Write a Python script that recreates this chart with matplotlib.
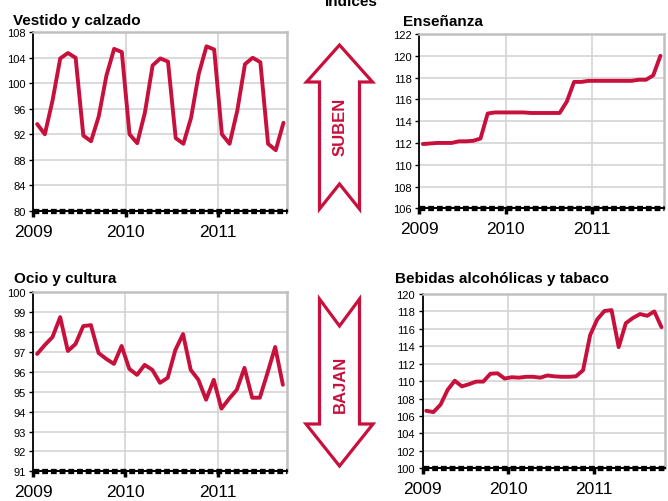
import numpy as np
import matplotlib.pyplot as plt
from matplotlib.patches import Polygon

plt.rcParams['font.family'] = ['Liberation Sans', 'DejaVu Sans']

# ===== datos (índices mensuales, ene-2009 en adelante) =====
years = ['2009', '2010', '2011']

vestido = [93.6, 92.0, 97.3, 103.9, 104.75, 104.0, 91.8, 90.9, 94.8, 101.2, 105.4, 104.9,
           92.0, 90.6, 95.4, 102.8, 103.9, 103.4, 91.4, 90.5, 94.6, 101.5, 105.8, 105.3,
           92.0, 90.5, 95.7, 103.0, 104.0, 103.3, 90.5, 89.5, 93.8]

ensenanza = [111.9, 111.95, 112.0, 112.0, 112.0, 112.15, 112.15, 112.2, 112.4, 114.7, 114.8, 114.8,
             114.8, 114.8, 114.8, 114.75, 114.75, 114.75, 114.75, 114.75, 115.8, 117.6, 117.6, 117.7,
             117.7, 117.7, 117.7, 117.7, 117.7, 117.7, 117.8, 117.8, 118.2, 120.0]

ocio = [96.9, 97.35, 97.75, 98.75, 97.05, 97.4, 98.3, 98.35, 96.95, 96.65, 96.4, 97.3,
        96.15, 95.85, 96.35, 96.1, 95.45, 95.7, 97.1, 97.9, 96.1, 95.6, 94.6, 95.6,
        94.15, 94.65, 95.1, 96.2, 94.7, 94.7, 95.95, 97.25, 95.35]

bebidas = [106.6, 106.45, 107.3, 109.0, 110.05, 109.4, 109.65, 109.95, 109.95, 110.85, 110.9, 110.3,
           110.45, 110.4, 110.5, 110.5, 110.4, 110.65, 110.55, 110.5, 110.5, 110.55, 111.25, 115.3,
           117.1, 118.05, 118.15, 113.9, 116.65, 117.25, 117.7, 117.5, 118.0, 116.2]

RED = '#C8103C'
W, H = 668, 502

fig = plt.figure(figsize=(W / 100, H / 100), dpi=100)


def panel(box, values, ymin, ymax, step, title, title_xy):
    # box en pixeles: izquierda, arriba, derecha, abajo
    l, t, r, b = box
    ax = fig.add_axes([l / W, 1 - b / H, (r - l) / W, (b - t) / H])
    x = np.arange(len(values)) + 0.5
    ax.plot(x, values, color=RED, lw=2.8, solid_joinstyle='round',
            solid_capstyle='round', zorder=3)
    ax.set_xlim(0, len(values))
    ax.set_ylim(ymin, ymax)
    ax.set_yticks(np.arange(ymin, ymax + step / 2, step))
    ax.set_xticks([0, 12, 24])
    ax.set_xticklabels(years, fontsize=12.5)
    ax.tick_params(axis='y', labelsize=8, length=3, width=1, pad=2.5)
    ax.tick_params(axis='x', length=4.5, width=2.5, pad=5)
    ax.grid(True, color='#d4d4d4', lw=1.2, zorder=0)
    for s in ('top', 'right'):
        ax.spines[s].set_color('#c0c0c0')
        ax.spines[s].set_linewidth(1.8)
    ax.spines['left'].set_linewidth(1.3)
    ax.spines['bottom'].set_visible(False)
    # eje inferior grueso punteado
    ax.axhline(ymin, color='black', lw=1.5, zorder=4, clip_on=False)
    ax.axhline(ymin, color='black', lw=3.8, ls=(0, (1.1, 0.55)), zorder=4, clip_on=False)
    fig.text(title_xy[0] / W, 1 - title_xy[1] / H, title, fontsize=11,
             fontweight='bold', ha='left', va='baseline')
    return ax


panel((33.3, 33.3, 287.3, 211.7), vestido, 80, 108, 4, 'Vestido y calzado', (12.7, 24.5))
panel((419.3, 35, 664, 209.3), ensenanza, 106, 122, 2, 'Enseñanza', (403.3, 26))
panel((33.3, 293.3, 286.7, 472.3), ocio, 91, 100, 1, 'Ocio y cultura', (14, 283.3))
panel((422.7, 295, 665, 469.3), bebidas, 100, 120, 2, 'Bebidas alcohólicas y tabaco', (395, 283.3))

fig.text(351 / W, 1 - 6 / H, 'Índices', fontsize=11, fontweight='bold',
         ha='center', va='baseline')

# ===== flechas =====
ov = fig.add_axes([0, 0, 1, 1])
ov.set_xlim(0, W)
ov.set_ylim(H, 0)
ov.axis('off')

up = [(339.5, 46), (372.5, 83), (359.5, 83), (359.5, 210), (339.5, 185),
      (319.5, 210), (319.5, 83), (306.5, 83)]
down = [(319.5, 300), (339.5, 327), (359.5, 300), (359.5, 425), (373, 425),
        (339.5, 467), (306, 425), (319.5, 425)]
for pts in (up, down):
    ov.add_patch(Polygon(pts, closed=True, facecolor='white', edgecolor=RED,
                         lw=2.3, joinstyle='miter'))

ov.text(340, 127, 'SUBEN', rotation=90, color=RED, fontsize=12,
        fontweight='bold', ha='center', va='center')
ov.text(340, 384, 'BAJAN', rotation=90, color=RED, fontsize=12,
        fontweight='bold', ha='center', va='center')

fig.savefig('out.png', dpi=100)
